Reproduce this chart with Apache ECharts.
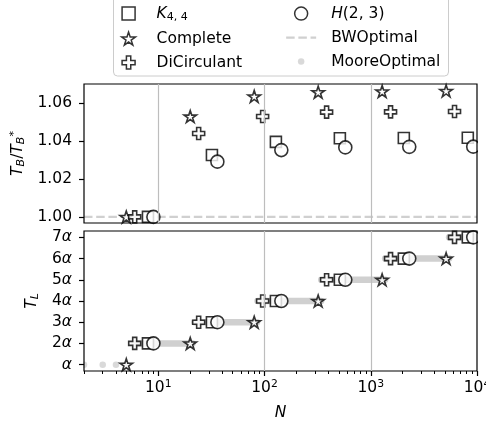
<!DOCTYPE html>
<html>
<head>
<meta charset="utf-8">
<script src="https://cdn.jsdelivr.net/npm/echarts@6/dist/echarts.min.js"></script>
<style>
  html, body { margin: 0; padding: 0; background: #fff; }
  #chart { width: 486px; height: 426px; }
</style>
</head>
<body>
<div id="chart"></div>
<script>
// Graph families: node count N, bandwidth ratio T_B/T_B*, latency level T_L (multiples of alpha)
const completeN = [5, 20, 80, 320, 1280, 5120];
const completeRatio = [1.0, 1.0529, 1.0635, 1.0657, 1.0661, 1.0664];
const completeTL = [1, 2, 3, 4, 5, 6];

const diCirculantN = [6, 24, 96, 384, 1536, 6144];
const diCirculantRatio = [1.0, 1.0439, 1.0529, 1.0552, 1.0553, 1.0555];
const diCirculantTL = [2, 3, 4, 5, 6, 7];

const k44N = [8, 32, 128, 512, 2048, 8192];
const k44Ratio = [1.0, 1.0326, 1.0395, 1.0414, 1.0416, 1.0417];
const k44TL = [2, 3, 4, 5, 6, 7];

const h23N = [9, 36, 144, 576, 2304, 9216];
const h23Ratio = [1.0, 1.0291, 1.0352, 1.0366, 1.0369, 1.0370];
const h23TL = [2, 3, 4, 5, 6, 7];

// Bandwidth-optimal reference level
const bwN = [2, 10000];
const bwRatio = [1.0, 1.0];

// Moore-optimal latency: single sizes at level 1, then runs of consecutive N per level
const mooreDotN = [2, 3, 4, 5];
const mooreDotTL = [1, 1, 1, 1];
const mooreRunStart = [6, 22, 86, 342, 1366, 5462];
const mooreRunEnd = [21, 85, 341, 1365, 5461, 10000];
const mooreRunTL = [2, 3, 4, 5, 6, 7];

// Tick positions
const ratioTicks = [1.00, 1.02, 1.04, 1.06];
const levelTicks = [1, 2, 3, 4, 5, 6, 7];
const majorTicksN = [10, 100, 1000, 10000];
const minorTicksN = [2, 3, 4, 5, 6, 7, 8, 9,
                     20, 30, 40, 50, 60, 70, 80, 90,
                     200, 300, 400, 500, 600, 700, 800, 900,
                     2000, 3000, 4000, 5000, 6000, 7000, 8000, 9000];

const FONT = 'DejaVu Sans';
const FS = 15.5;
const SQUARE = 'path://M0,0L10,0L10,10L0,10Z';
const STAR = 'path://M0,-100L-22.4,-30.8L-95.1,-30.9L-36.2,11.8L-58.8,80.9L0,38.1L58.8,80.9L36.2,11.8L95.1,-30.9L22.4,-30.8Z';
const PLUS = 'path://M-1,-3L-1,-1L-3,-1L-3,1L-1,1L-1,3L1,3L1,1L3,1L3,-1L1,-1L1,-3Z';
const DOT = 'path://M-7,-7M7,7M3.5,0A3.5,3.5,0,1,1,-3.5,0A3.5,3.5,0,1,1,3.5,0Z';
const GREY = '#d0d0d0';

const zip = (xs, ys) => xs.map((x, i) => [x, ys[i]]);
const markerStyle = { color: '#ffffff', borderColor: '#000000', borderWidth: 1.6 };

function markerSeries(name, symbol, size, xs, ys, panel) {
  return {
    name, type: 'scatter', xAxisIndex: panel === 0 ? 0 : 1, yAxisIndex: panel,
    symbol, symbolSize: size, symbolKeepAspect: true,
    itemStyle: markerStyle, data: zip(xs, ys), z: 3, clip: false,
    emphasis: { disabled: true }, silent: true
  };
}

const series = [];
// Moore-optimal points and runs (bottom panel, drawn underneath)
series.push({
  name: 'MooreOptimal', type: 'scatter', xAxisIndex: 1, yAxisIndex: 1,
  symbol: 'circle', symbolSize: 6.5, itemStyle: { color: GREY },
  data: zip(mooreDotN, mooreDotTL), z: 1, clip: false, silent: true,
  emphasis: { disabled: true }
});
mooreRunStart.forEach((s, i) => {
  series.push({
    name: 'MooreOptimal', type: 'line', xAxisIndex: 1, yAxisIndex: 1,
    symbol: 'none', showSymbol: false, clip: true, z: 1, silent: true,
    itemStyle: { color: GREY },
    lineStyle: { color: GREY, width: 6.5, cap: 'round' },
    data: [[s, mooreRunTL[i]], [mooreRunEnd[i], mooreRunTL[i]]]
  });
});
// Bandwidth-optimal reference line (top panel)
series.push({
  name: 'BWOptimal', type: 'line', xAxisIndex: 0, yAxisIndex: 0,
  symbol: 'none', showSymbol: false, z: 1, silent: true,
  itemStyle: { color: GREY },
  lineStyle: { color: GREY, width: 2.3, type: [8.5, 3.7] },
  data: zip(bwN, bwRatio)
});
// Top panel markers
series.push(markerSeries('K4,4', SQUARE, 11, k44N, k44Ratio, 0));
series.push(markerSeries('H(2,3)', 'circle', 13, h23N, h23Ratio, 0));
series.push(markerSeries('Complete', STAR, 12.5, completeN, completeRatio, 0));
series.push(markerSeries('DiCirculant', PLUS, 12, diCirculantN, diCirculantRatio, 0));
// Bottom panel markers
series.push(markerSeries('K4,4', SQUARE, 11, k44N, k44TL, 1));
series.push(markerSeries('H(2,3)', 'circle', 13, h23N, h23TL, 1));
series.push(markerSeries('DiCirculant', PLUS, 12, diCirculantN, diCirculantTL, 1));
series.push(markerSeries('Complete', STAR, 12.5, completeN, completeTL, 1));

const legendLabels = {
  'K4,4': '{s| }{i|K}{sb|4, 4}',
  'Complete': '{s| }{n|Complete}',
  'DiCirculant': '{s| }{n|DiCirculant}',
  'H(2,3)': '{s| }{i|H}{n|(2, 3)}',
  'BWOptimal': '{s| }{n|BWOptimal}',
  'MooreOptimal': '{s| }{n|MooreOptimal}'
};

function legendRich(gap) {
  return {
    s: { width: gap, lineHeight: 18, fontSize: FS },
    n: { fontFamily: FONT, fontSize: FS, lineHeight: 18, color: '#000' },
    i: { fontFamily: FONT, fontSize: FS, lineHeight: 18, fontStyle: 'italic', color: '#000' },
    sb: { fontFamily: FONT, fontSize: 11, lineHeight: 8, verticalAlign: 'bottom', color: '#000' }
  };
}

function makeLegend(left, names, gap) {
  return {
    orient: 'vertical', left, top: 5.6, padding: 0,
    itemWidth: 30, itemHeight: 13, itemGap: 8,
    selectedMode: false,
    data: names.map(n => {
      const d = { name: n };
      if (n === 'MooreOptimal') { d.icon = DOT; d.itemStyle = { color: GREY, borderWidth: 0 }; }
      if (n === 'BWOptimal') {
        d.lineStyle = { color: GREY, width: 2.3, type: [8.5, 3.7] };
        d.itemStyle = { color: 'rgba(0,0,0,0)', borderWidth: 0, opacity: 0 };
      }
      return d;
    }),
    itemStyle: { borderWidth: 1.5 },
    formatter: n => legendLabels[n],
    textStyle: { fontFamily: FONT, fontSize: FS, rich: legendRich(gap) }
  };
}

const tickLine = { color: '#000', width: 1.2 };
const gridLine = { show: true, lineStyle: { color: '#bdbdbd', width: 1.2 }, showMinLine: false, showMaxLine: false };

function powerLabel(v) {
  const e = Math.round(Math.log10(v));
  if (Math.abs(v - Math.pow(10, e)) > 1e-6 * v) return '';
  return '{b|10}{e|' + e + '}';
}

const option = {
  animation: false,
  backgroundColor: '#ffffff',
  textStyle: { fontFamily: FONT },
  graphic: {
    elements: [
      { type: 'rect', shape: { x: 113.5, y: -6, width: 335, height: 82, r: 4 },
        style: { fill: 'rgba(255,255,255,0.8)', stroke: '#cccccc', lineWidth: 1 }, z: 0, silent: true },
      { type: 'rect', shape: { x: 478, y: 82, width: 10, height: 143 }, style: { fill: '#fff' }, z: 50, silent: true },
      { type: 'rect', shape: { x: 478, y: 229, width: 10, height: 143 }, style: { fill: '#fff' }, z: 50, silent: true },
      { type: 'rect', shape: { x: 74, y: 355, width: 9.3, height: 14 }, style: { fill: '#fff' }, z: 50, silent: true }
    ]
  },
  legend: [
    makeLegend(121, ['K4,4', 'Complete', 'DiCirculant'], 8),
    makeLegend(285, ['H(2,3)', 'BWOptimal', 'MooreOptimal'], 10)
  ],
  grid: [
    { left: 84, right: 9, top: 84, height: 139, show: true, borderColor: '#000', borderWidth: 1.2,
      backgroundColor: 'transparent', z: 60, containLabel: false, outerBoundsMode: 'none' },
    { left: 84, right: 9, top: 231, height: 140, show: true, borderColor: '#000', borderWidth: 1.2,
      backgroundColor: 'transparent', z: 60, containLabel: false, outerBoundsMode: 'none' }
  ],
  xAxis: [
    { type: 'log', logBase: 10, gridIndex: 0, min: 2, max: 10000, z: 60,
      axisLine: { show: false }, axisTick: { show: false }, axisLabel: { show: false },
      splitLine: gridLine },
    { type: 'log', logBase: 10, gridIndex: 1, min: 2, max: 10000, z: 60,
      name: 'N', nameLocation: 'middle', nameGap: 33,
      nameTextStyle: { fontFamily: FONT, fontSize: FS, fontStyle: 'italic', lineHeight: 18, color: '#000' },
      axisLine: { show: false },
      axisTick: { show: true, length: 5, lineStyle: tickLine, customValues: majorTicksN },
      axisLabel: {
        show: true, interval: 0, margin: 8, formatter: powerLabel, color: '#000',
        customValues: majorTicksN,
        rich: {
          b: { fontFamily: FONT, fontSize: FS, lineHeight: 18, color: '#000' },
          e: { fontFamily: FONT, fontSize: 10.8, lineHeight: 10, verticalAlign: 'top', color: '#000' }
        }
      },
      splitLine: gridLine },
    { type: 'log', logBase: 10, gridIndex: 1, min: 2, max: 10000, z: 60, position: 'bottom',
      axisLine: { show: false },
      axisTick: { show: true, length: 3, lineStyle: { color: '#000', width: 1 }, customValues: minorTicksN },
      axisLabel: { show: false }, splitLine: { show: false } }
  ],
  yAxis: [
    { type: 'value', gridIndex: 0, min: 0.9968, max: 1.07, z: 60,
      name: '{i|T}{sb|B}{n|/}{i|T}{sb|B}{sp|*}', nameLocation: 'middle', nameRotate: 90, nameGap: 52,
      nameTextStyle: {
        rich: {
          n: { fontFamily: FONT, fontSize: FS, lineHeight: 18, color: '#000' },
          i: { fontFamily: FONT, fontSize: FS, lineHeight: 18, fontStyle: 'italic', color: '#000' },
          sb: { fontFamily: FONT, fontSize: 11, lineHeight: 8, verticalAlign: 'bottom', fontStyle: 'italic', color: '#000' },
          sp: { fontFamily: FONT, fontSize: 11, lineHeight: 8, verticalAlign: 'top', color: '#000' }
        }
      },
      axisLine: { show: false },
      axisTick: { show: true, length: 5, lineStyle: tickLine, customValues: ratioTicks },
      axisLabel: { customValues: ratioTicks, margin: 12, fontFamily: FONT, fontSize: FS, color: '#000',
        formatter: v => v.toFixed(2) },
      splitLine: { show: false } },
    { type: 'value', gridIndex: 1, min: 0.7, max: 7.3, z: 60,
      name: '{i|T}{sb|L}', nameLocation: 'middle', nameRotate: 90, nameGap: 41,
      nameTextStyle: {
        rich: {
          i: { fontFamily: FONT, fontSize: FS, lineHeight: 18, fontStyle: 'italic', color: '#000' },
          sb: { fontFamily: FONT, fontSize: 11, lineHeight: 8, verticalAlign: 'bottom', fontStyle: 'italic', color: '#000' }
        }
      },
      axisLine: { show: false },
      axisTick: { show: true, length: 5, lineStyle: tickLine, customValues: levelTicks },
      axisLabel: { customValues: levelTicks, margin: 12, color: '#000',
        formatter: v => (v === 1 ? '{a|α}' : '{n|' + v + '}{a|α}'),
        rich: {
          n: { fontFamily: FONT, fontSize: FS, color: '#000' },
          a: { fontFamily: FONT, fontSize: FS, fontStyle: 'italic', color: '#000' }
        } },
      splitLine: { show: false } }
  ],
  series
};

const chart = echarts.init(document.getElementById('chart'), null, { renderer: 'canvas' });
chart.setOption(option);
</script>
</body>
</html>
